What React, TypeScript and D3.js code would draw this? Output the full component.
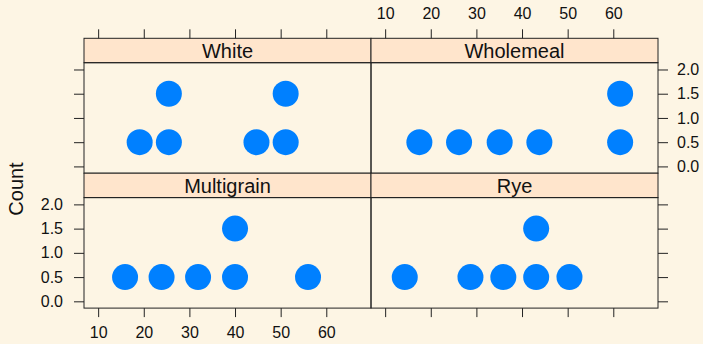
import React, { useRef, useEffect } from 'react'
import * as d3 from 'd3'

// binned x positions per panel; repeated values stack up
const panels = ['White', 'Wholemeal', 'Multigrain', 'Rye']
const whiteVals = [19.1, 25.5, 25.5, 44.7, 51.1, 51.1]
const wholemealVals = [17.5, 26.2, 35.1, 43.8, 61.5, 61.5]
const multigrainVals = [15.9, 23.9, 31.9, 40.0, 40.0, 56.0]
const ryeVals = [14.3, 28.7, 35.9, 43.1, 43.1, 50.4]
const xTicks = [10, 20, 30, 40, 50, 60]
const yTicks = [0, 0.5, 1, 1.5, 2]

const W = 703, H = 344
const bg = '#FDF5E4'
const stripFill = '#FFE5CC'
const dotFill = '#0080FF'
const font = "'Liberation Sans', Arial, sans-serif"

function App() {
  const svgRef = useRef<SVGSVGElement>(null)

  useEffect(() => {
    const svg = d3.select(svgRef.current)
    svg.selectAll('*').remove()

    svg.append('rect').attr('width', W).attr('height', H).attr('fill', bg)

    const left = 84, colW = 287
    const top = 38.3, stripH = 24.4, panelH = 110.5

    const x = d3.scaleLinear().domain([6.9, 69.8]).range([0, colW])
    const y = d3.scaleLinear().domain([-0.14, 2.14]).range([panelH, 0])

    const vals = [whiteVals, wholemealVals, multigrainVals, ryeVals]

    panels.forEach((name, i) => {
      const col = i % 2, row = Math.floor(i / 2)
      const px = left + col * colW
      const sy = top + row * (stripH + panelH)
      const py = sy + stripH
      const g = svg.append('g')

      // strip
      g.append('rect').attr('x', px).attr('y', sy).attr('width', colW).attr('height', stripH)
        .attr('fill', stripFill).attr('stroke', '#222').attr('stroke-width', 1)
      g.append('text').attr('x', px + colW / 2).attr('y', sy + 19.7)
        .attr('text-anchor', 'middle').attr('font-family', font).attr('font-size', 20)
        .attr('fill', '#111').text(name)

      // dots, stacked by count
      const seen = new Map<number, number>()
      const pts = vals[i].map(v => {
        const c = (seen.get(v) || 0) + 1
        seen.set(v, c)
        return { v, c: c - 0.5 }
      })
      const pg = g.append('g').attr('transform', `translate(${px},${py})`)
      pg.selectAll('circle').data(pts).join('circle')
        .attr('cx', d => x(d.v)).attr('cy', d => y(d.c)).attr('r', 13)
        .attr('fill', dotFill)

      g.append('rect').attr('x', px).attr('y', py).attr('width', colW).attr('height', panelH)
        .attr('fill', 'none').attr('stroke', '#222').attr('stroke-width', 1)

      // axes
      const styleAxis = (a: any) => {
        a.select('.domain').remove()
        a.selectAll('line').attr('stroke', '#222')
        a.selectAll('text').attr('font-family', font).attr('font-size', 16).attr('fill', '#111')
      }
      const yf = d3.format('.1f')
      if (col === 0) {
        const ax = d3.axisLeft(y).tickValues(yTicks).tickSize(10).tickPadding(11)
          .tickFormat(row === 1 ? (yf as any) : () => '')
        svg.append('g').attr('transform', `translate(${px},${py})`).call(ax).call(styleAxis)
      } else {
        const ax = d3.axisRight(y).tickValues(yTicks).tickSize(10).tickPadding(9)
          .tickFormat(row === 0 ? (yf as any) : () => '')
        svg.append('g').attr('transform', `translate(${px + colW},${py})`).call(ax).call(styleAxis)
      }
      if (row === 0) {
        const ax = d3.axisTop(x).tickValues(xTicks).tickSize(9).tickPadding(10)
          .tickFormat(col === 1 ? (d3.format('d') as any) : () => '')
        svg.append('g').attr('transform', `translate(${px},${sy})`).call(ax).call(styleAxis)
      } else {
        const ax = d3.axisBottom(x).tickValues(xTicks).tickSize(9).tickPadding(10)
          .tickFormat(col === 0 ? (d3.format('d') as any) : () => '')
        svg.append('g').attr('transform', `translate(${px},${py + panelH})`).call(ax).call(styleAxis)
      }
    })

    svg.append('text')
      .attr('transform', 'translate(22.5,189) rotate(-90)')
      .attr('text-anchor', 'middle').attr('font-family', font).attr('font-size', 20)
      .attr('fill', '#111').text('Count')
  }, [])

  return (
    <svg ref={svgRef} width={W} height={H}
      style={{ position: 'absolute', left: 0, top: 0, display: 'block' }} />
  )
}

export default App
